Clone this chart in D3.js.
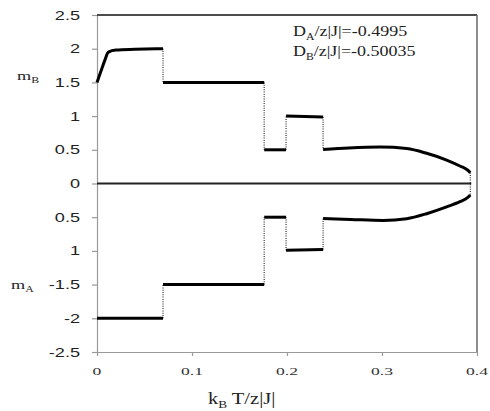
<!DOCTYPE html>
<html>
<head>
<meta charset="utf-8">
<script src="https://cdn.jsdelivr.net/npm/d3@7"></script>
<style>
body { margin: 0; background: #fff; }
</style>
</head>
<body>
<div id="chart"></div>
<script>
const xTicks = [0, 0.1, 0.2, 0.3, 0.4]
const xTickLabels = ["0", "0.1", "0.2", "0.3", "0.4"]
const yTicks = [2.5, 2, 1.5, 1, 0.5, 0, -0.5, -1, -1.5, -2, -2.5]
const yTickLabels = ["2.5", "2", "1.5", "1", "0.5", "0", "0.5", "1", "-1.5", "-2", "-2.5"]

// sublattice B magnetization, one array per branch
const mB_1 = [[0, 1.5], [0.004, 1.66], [0.008, 1.82], [0.012, 1.95], [0.02, 1.98], [0.04, 1.99], [0.0695, 2.0]]
const mB_2 = [[0.0695, 1.5], [0.176, 1.5]]
const mB_3 = [[0.176, 0.5], [0.199, 0.5]]
const mB_4 = [[0.199, 1.0], [0.238, 0.985]]
const mB_5 = [[0.238, 0.505], [0.265, 0.527], [0.298, 0.54], [0.326, 0.518], [0.347, 0.448], [0.368, 0.348], [0.382, 0.26], [0.39, 0.2], [0.393, 0.16]]

// sublattice A magnetization
const mA_1 = [[0, -2], [0.0695, -2]]
const mA_2 = [[0.0695, -1.5], [0.176, -1.5]]
const mA_3 = [[0.176, -0.5], [0.199, -0.5]]
const mA_4 = [[0.199, -0.99], [0.238, -0.98]]
const mA_5 = [[0.238, -0.52], [0.267, -0.533], [0.301, -0.548], [0.326, -0.522], [0.347, -0.448], [0.368, -0.348], [0.382, -0.27], [0.39, -0.21], [0.393, -0.17]]

const zeroLine = [[0, 0], [0.394, 0]]

const margin = { top: 15, right: 13, bottom: 59, left: 97 }
    , width = 490 - margin.left - margin.right
    , height = 411 - margin.top - margin.bottom

const root = d3.select("#chart").append("svg")
    .attr("width", 490)
    .attr("height", 411)

const svg = root.append("g")
    .attr("transform", "translate(" + margin.left + "," + margin.top + ")")

const x = d3.scaleLinear().domain([0, 0.4]).range([0, width])
const y = d3.scaleLinear().domain([-2.5, 2.5]).range([height, 0])

// axes (labels drawn separately so they can be stretched like the scan)
svg.append("g")
    .call(d3.axisLeft(y).tickValues(yTicks).tickSize(5).tickSizeOuter(0).tickFormat(""))
svg.append("g")
    .attr("transform", "translate(0," + height + ")")
    .call(d3.axisBottom(x).tickValues(xTicks).tickSize(4).tickSizeOuter(0).tickFormat(""))

root.selectAll(".domain, .tick line").attr("stroke", "#999").attr("stroke-width", 1.2)

// top and right frame
svg.append("line").attr("x1", 0).attr("x2", width).attr("y1", 0).attr("y2", 0)
    .attr("stroke", "#111").attr("stroke-width", 1.5)
svg.append("line").attr("x1", width).attr("x2", width).attr("y1", 0).attr("y2", height)
    .attr("stroke", "#666").attr("stroke-width", 1.5)

yTicks.forEach((d, i) => {
    root.append("text")
        .attr("transform", "translate(" + (margin.left - 17) + "," + (margin.top + y(d) + 4.5) + ") scale(1.45,1)")
        .attr("text-anchor", "end")
        .style("font", "12.5px 'Liberation Sans', Arial, sans-serif")
        .attr("fill", "#222")
        .text(yTickLabels[i])
})

xTicks.forEach((d, i) => {
    root.append("text")
        .attr("transform", "translate(" + (margin.left + x(d)) + "," + (margin.top + height + 23) + ") scale(1.6,1)")
        .attr("text-anchor", "middle")
        .style("font", "11px 'Liberation Serif', 'Times New Roman', serif")
        .attr("fill", "#333")
        .text(xTickLabels[i])
})

const line = d3.line().x(d => x(d[0])).y(d => y(d[1]))
const smooth = d3.line().curve(d3.curveMonotoneX).x(d => x(d[0])).y(d => y(d[1]))

const branchesB = [mB_1, mB_2, mB_3, mB_4, mB_5]
const branchesA = [mA_1, mA_2, mA_3, mA_4, mA_5]

// dotted jumps between branches
function jumps(branches) {
    let out = []
    for (let i = 0; i < branches.length - 1; i++) {
        out.push([branches[i][branches[i].length - 1], branches[i + 1][0]])
    }
    return out
}
const dotted = jumps(branchesB).concat(jumps(branchesA))
dotted.push([mB_5[mB_5.length - 1], mA_5[mA_5.length - 1]])

svg.selectAll("path.jump")
    .data(dotted)
    .enter()
    .append("path")
    .attr("class", "jump")
    .attr("d", line)
    .attr("fill", "none")
    .attr("stroke", "#444")
    .attr("stroke-width", 1.3)
    .attr("stroke-dasharray", "1,1.3")

svg.append("path")
    .datum(zeroLine)
    .attr("d", line)
    .attr("fill", "none")
    .attr("stroke", "#222")
    .attr("stroke-width", 2.2)

svg.selectAll("path.branch")
    .data(branchesB.concat(branchesA))
    .enter()
    .append("path")
    .attr("class", "branch")
    .attr("d", smooth)
    .attr("fill", "none")
    .attr("stroke", "#000")
    .attr("stroke-width", 3)
    .attr("stroke-linejoin", "round")

// labels
function label(tx, ty, sx, size, main, sub, rest) {
    const t = root.append("text")
        .attr("transform", "translate(" + tx + "," + ty + ") scale(" + sx + ",1)")
        .style("font", size + "px 'Liberation Serif', 'Times New Roman', serif")
        .attr("fill", "#222")
    t.append("tspan").text(main)
    t.append("tspan").attr("dy", size * 0.25).style("font-size", (size * 0.65) + "px").text(sub)
    if (rest) t.append("tspan").attr("dy", -size * 0.25).text(rest)
}

label(17, 80, 1.4, 13, "m", "B")
label(11, 289, 1.4, 13, "m", "A")
label(208, 404, 1.28, 16, "k", "B", " T/z|J|")
label(293, 36, 1.2, 15, "D", "A", "/z|J|=-0.4995")
label(293, 56, 1.2, 15, "D", "B", "/z|J|=-0.50035")
</script>
</body>
</html>
